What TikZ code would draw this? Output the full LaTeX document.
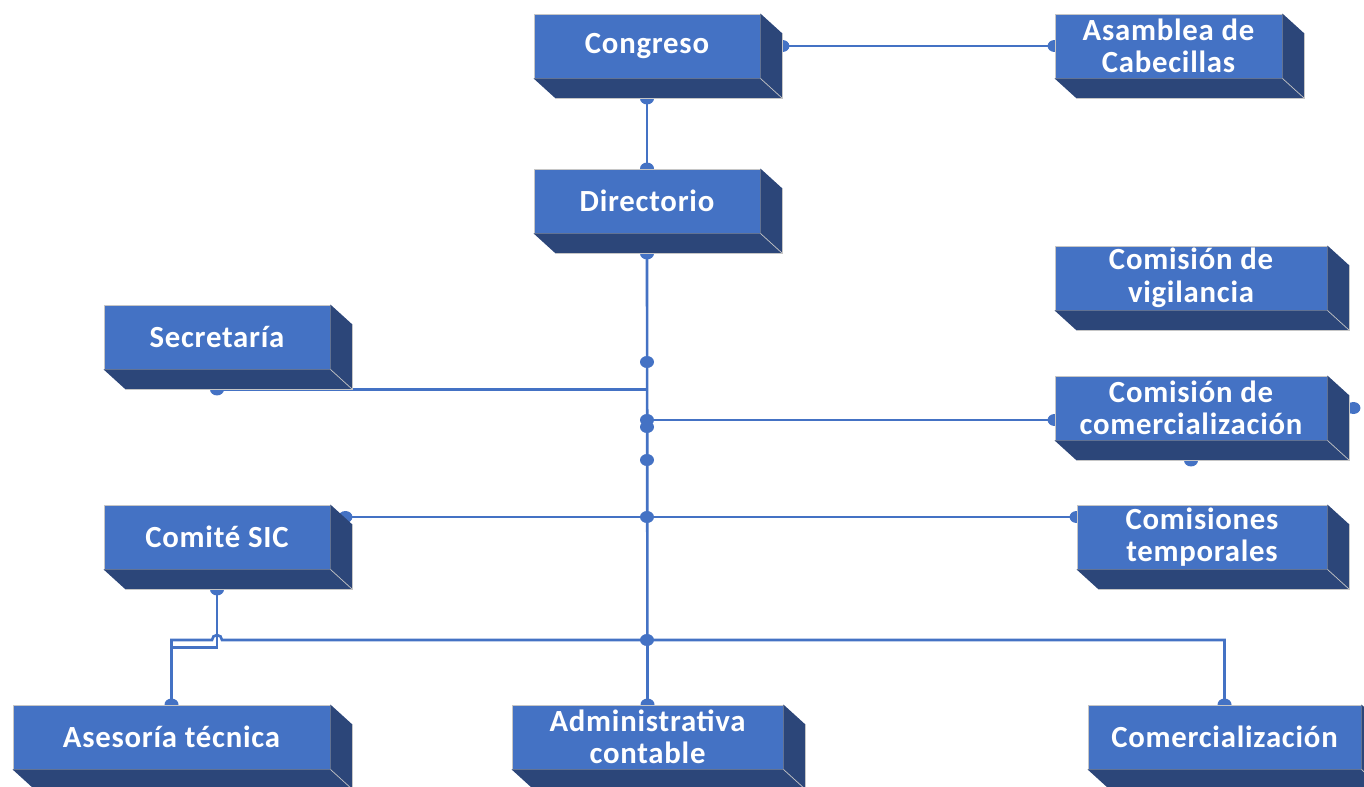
\documentclass[tikz,border=0pt]{standalone}
\usepackage{fontspec}
\setmainfont{Carlito}[LetterSpace=2.5]
\usetikzlibrary{backgrounds}

\definecolor{azul}{HTML}{4472C4}
\definecolor{azuloscuro}{HTML}{2C4679}

\tikzset{
    caja/.style={fill=azul, draw=gray!45, line width=0.5pt, text=white, align=center,
        font=\bfseries\fontsize{17.5}{18.5}\selectfont, minimum height=1.28cm, inner sep=0pt},
    linea/.style={azul, line width=1.5pt},
    punto/.style={fill=azul}
}

% relieve de cada caja (cara derecha y cara inferior)
\newcommand{\relieve}[1]{%
    \fill[azuloscuro] (#1.north east) -- ++(0.44,-0.4) -- ([shift={(0.44,-0.4)}]#1.south east)
        -- ([shift={(0.44,-0.4)}]#1.south west) -- (#1.south west) -- (#1.south east) -- cycle;
    \draw[gray!45, line width=0.4pt] ([shift={(0.44,-0.4)}]#1.north east) -- ([shift={(0.44,-0.4)}]#1.south east)
        -- ([shift={(0.44,-0.4)}]#1.south west);
    \draw[gray!45, line width=0.4pt] (#1.south east) -- ++(0.44,-0.4);
}
\newcommand{\punto}[1]{\fill[punto] #1 ellipse (0.14 and 0.12);}

\begin{document}
\begin{tikzpicture}
    \useasboundingbox (0,0) rectangle (27.28,15.72);

    % Cajas del organigrama
    \node[caja, minimum width=4.52cm] (congreso) at (12.94, 14.80) {Congreso};
    \node[caja, minimum width=4.54cm] (asamblea) at (23.37, 14.80) {Asamblea de\\Cabecillas};
    \node[caja, minimum width=4.52cm] (directorio) at (12.94, 11.70) {Directorio};
    \node[caja, minimum width=4.52cm] (secretaria) at (4.34, 8.98) {Secretaría};
    \node[caja, minimum width=5.44cm] (vigilancia) at (23.82, 10.16) {Comisión de\\vigilancia};
    \node[caja, minimum width=5.44cm] (comision) at (23.82, 7.56) {Comisión de\\comercialización};
    \node[caja, minimum width=4.52cm] (sic) at (4.34, 4.98) {Comité SIC};
    \node[caja, minimum width=5.00cm] (temporales) at (24.04, 4.98) {Comisiones\\temporales};
    \node[caja, minimum width=6.34cm] (asesoria) at (3.43, 0.98) {Asesoría técnica};
    \node[caja, minimum width=5.42cm] (administrativa) at (12.95, 0.98) {Administrativa\\contable};
    \node[caja, minimum width=5.46cm] (comercial) at (24.49, 0.98) {Comercialización};

    % Relieve
    \relieve{congreso}
    \relieve{asamblea}
    \relieve{directorio}
    \relieve{secretaria}
    \relieve{vigilancia}
    \relieve{comision}
    \relieve{sic}
    \relieve{temporales}
    \relieve{asesoria}
    \relieve{administrativa}
    \relieve{comercial}

    \begin{pgfonlayer}{background}
        % Puntos de anclaje
        \coordinate (tronco) at ([yshift=-0.4cm]directorio.south);
        \coordinate (barra) at (0, 2.92);

        % Congreso con la asamblea y el directorio
        \draw[linea] ([xshift=0.44cm]congreso.east) -- (asamblea.west);
        \draw[linea] ([yshift=-0.4cm]congreso.south) -- (directorio.north);

        % Tronco central
        \draw[linea] (tronco) -- (administrativa.north);

        % Ramas laterales
        \draw[linea] ([yshift=-0.4cm]secretaria.south) -| (tronco);
        \draw[linea] ([yshift=-0.24cm]comision.west) -| (tronco);
        \draw[linea] ([shift={(0.44,0.4)}]sic.east) -- ([yshift=0.4cm]temporales.west);

        % Barra inferior (con salto sobre la línea del comité)
        \draw[linea] (asesoria.north) |- ([xshift=-0.1cm]sic.south |- barra)
            arc (180:0:0.1) -| (comercial.north);
        \draw[linea] ([yshift=-0.4cm]sic.south) -- ++(0,-1.16) -| (asesoria.north);

        % Puntos
        \punto{([xshift=0.44cm]congreso.east)}
        \punto{(asamblea.west)}
        \punto{([yshift=-0.4cm]congreso.south)}
        \punto{(directorio.north)}
        \punto{(tronco)}
        \punto{(12.94, 8.48)}
        \punto{(12.94, 7.32)}
        \punto{(12.94, 7.18)}
        \punto{(12.94, 6.52)}
        \punto{([yshift=-0.4cm]secretaria.south)}
        \punto{([yshift=-0.24cm]comision.west)}
        \punto{([xshift=0.52cm]comision.east)}
        \punto{([yshift=-0.4cm]comision.south)}
        \punto{([shift={(0.3,0.4)}]sic.east)}
        \punto{(12.94, 5.38)}
        \punto{([yshift=0.4cm]temporales.west)}
        \punto{([yshift=-0.4cm]sic.south)}
        \punto{(12.94, 2.92)}
        \punto{(asesoria.north)}
        \punto{(administrativa.north)}
        \punto{(comercial.north)}
    \end{pgfonlayer}
\end{tikzpicture}
\end{document}
